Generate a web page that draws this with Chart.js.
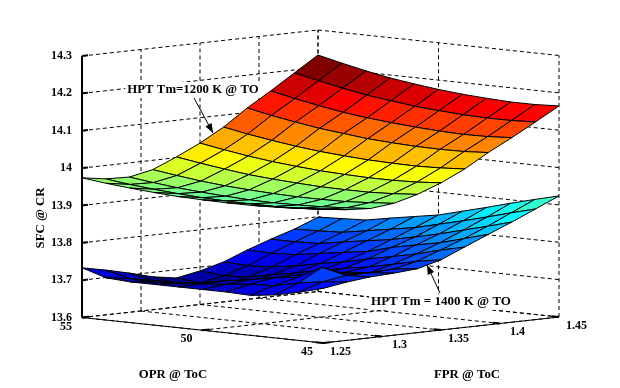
<!DOCTYPE html>
<html>
<head>
<meta charset="utf-8">
<style>html,body{margin:0;padding:0;background:#fff}canvas{display:block}</style>
<script src="https://cdn.jsdelivr.net/npm/chart.js@4"></script>
</head>
<body>
<canvas id="c" width="620" height="388"></canvas>
<script>
const oprValues = [55,54,53,52,51,50,49,48,47,46,45];
const fprValues = [1.25,1.27,1.29,1.31,1.33,1.35,1.37,1.39,1.41,1.43,1.45];
const oprTicks = [55,50,45];
const fprTicks = [1.25,1.3,1.35,1.4,1.45];
const sfcTicks = [13.6,13.7,13.8,13.9,14,14.1,14.2,14.3];
// rows: OPR 55 -> 45, columns: FPR 1.25 -> 1.45
const sfcTm1200 = [
[13.974,13.964,13.962,13.975,14.002,14.032,14.068,14.112,14.151,14.192,14.233],
[13.966,13.956,13.954,13.966,13.992,14.021,14.056,14.099,14.137,14.178,14.218],
[13.96,13.95,13.947,13.958,13.983,14.011,14.046,14.088,14.125,14.165,14.204],
[13.955,13.945,13.942,13.952,13.975,14.003,14.037,14.078,14.114,14.153,14.192],
[13.951,13.941,13.938,13.948,13.97,13.997,14.03,14.071,14.106,14.145,14.183],
[13.949,13.939,13.935,13.945,13.966,13.992,14.025,14.064,14.1,14.137,14.175],
[13.948,13.938,13.934,13.943,13.963,13.989,14.021,14.06,14.095,14.132,14.169],
[13.948,13.938,13.935,13.943,13.962,13.987,14.019,14.057,14.091,14.128,14.165],
[13.95,13.94,13.937,13.944,13.962,13.987,14.018,14.056,14.089,14.126,14.162],
[13.954,13.944,13.941,13.948,13.965,13.989,14.02,14.057,14.09,14.126,14.162],
[13.959,13.95,13.946,13.953,13.97,13.994,14.024,14.061,14.094,14.129,14.165]
];
const sfcTm1400 = [
[13.733,13.72,13.705,13.688,13.678,13.69,13.707,13.732,13.754,13.774,13.799],
[13.713,13.704,13.692,13.678,13.671,13.684,13.704,13.73,13.754,13.776,13.802],
[13.709,13.701,13.692,13.679,13.673,13.687,13.707,13.733,13.756,13.779,13.805],
[13.709,13.704,13.7,13.692,13.687,13.7,13.717,13.743,13.767,13.79,13.817],
[13.709,13.71,13.711,13.704,13.701,13.712,13.73,13.753,13.777,13.801,13.828],
[13.709,13.716,13.721,13.719,13.715,13.725,13.741,13.762,13.787,13.812,13.839],
[13.709,13.723,13.733,13.733,13.729,13.738,13.756,13.78,13.801,13.828,13.856],
[13.707,13.726,13.741,13.742,13.741,13.748,13.769,13.793,13.816,13.844,13.873],
[13.715,13.74,13.775,13.75,13.746,13.762,13.783,13.806,13.833,13.861,13.891],
[13.729,13.75,13.76,13.76,13.763,13.777,13.8,13.824,13.85,13.879,13.908],
[13.746,13.756,13.763,13.766,13.771,13.788,13.815,13.842,13.868,13.896,13.924]
];

const SERIF = '"Liberation Serif","Times New Roman",serif';
const Z_PX = 373.6;
// oblique view: turns (OPR, FPR, SFC) into coordinates of the chart's two scales
function project(opr, fpr, sfc) {
  const j = 55 - opr, i = (fpr - 1.25) / 0.02;
  return { x: 24.1 * j + 23.6 * i, y: sfc + (2.6 * i - 2.55 * j) / Z_PX };
}
function jet(t) {
  const c = v => Math.round(255 * Math.max(0, Math.min(1, v)));
  const r = Math.min(4 * t - 1.5, 4.5 - 4 * t);
  const g = Math.min(4 * t - 0.5, 3.5 - 4 * t);
  const b = Math.min(4 * t + 0.5, 2.5 - 4 * t);
  return `rgb(${c(r)},${c(g)},${c(b)})`;
}
const all = sfcTm1200.flat().concat(sfcTm1400.flat());
const zMin = Math.min(...all), zMax = Math.max(...all);

function cells(grid, name) {
  const out = [];
  for (let j = oprValues.length - 2; j >= 0; j--) {
    for (let i = 0; i < fprValues.length - 1; i++) {
      const pts = [[j,i],[j,i+1],[j+1,i+1],[j+1,i],[j,i]].map(([a,b]) =>
        project(oprValues[a], fprValues[b], grid[a][b]));
      out.push({
        label: name, data: pts, showLine: true, fill: 'shape', clip: false,
        backgroundColor: jet((grid[j][i+1] - zMin) / (zMax - zMin)),
        borderColor: '#000', borderWidth: 1, pointRadius: 0, tension: 0
      });
    }
  }
  return out;
}
const datasets = cells(sfcTm1200, 'HPT Tm=1200 K').concat(cells(sfcTm1400, 'HPT Tm=1400 K'));

function arrow(ctx, x0, y0, x1, y1) {
  ctx.beginPath(); ctx.moveTo(x0, y0); ctx.lineTo(x1, y1); ctx.lineWidth = 1; ctx.strokeStyle = '#000'; ctx.stroke();
  const a = Math.atan2(y1 - y0, x1 - x0), L = 10, W = 0.36;
  ctx.beginPath(); ctx.moveTo(x1, y1);
  ctx.lineTo(x1 - L * Math.cos(a - W), y1 - L * Math.sin(a - W));
  ctx.lineTo(x1 - L * Math.cos(a + W), y1 - L * Math.sin(a + W));
  ctx.closePath(); ctx.fillStyle = '#000'; ctx.fill();
}
function note(ctx, text, cx, cy, size) {
  ctx.font = `bold ${size}px ${SERIF}`;
  const w = ctx.measureText(text).width;
  ctx.fillStyle = '#fff';
  ctx.fillRect(cx - w / 2 - 2, cy - 8, w + 4, 16);
  ctx.fillStyle = '#000';
  ctx.fillText(text, cx, cy);
}

const box = {
  id: 'box',
  beforeDatasetsDraw(chart) {
    const { ctx, scales: { x, y } } = chart;
    const P = (o, f, z) => { const p = project(o, f, z); return [x.getPixelForValue(p.x), y.getPixelForValue(p.y)]; };
    const seg = (a, b) => { ctx.beginPath(); ctx.moveTo(a[0], a[1]); ctx.lineTo(b[0], b[1]); ctx.stroke(); };
    const z0 = sfcTicks[0], z1 = sfcTicks[sfcTicks.length - 1];
    ctx.save();
    ctx.strokeStyle = '#000'; ctx.lineWidth = 1; ctx.setLineDash([4, 3]);
    sfcTicks.forEach(z => { seg(P(55,1.25,z), P(55,1.45,z)); seg(P(55,1.45,z), P(45,1.45,z)); });
    fprTicks.forEach(f => { seg(P(55,f,z0), P(55,f,z1)); seg(P(55,f,z0), P(45,f,z0)); });
    oprTicks.forEach(o => { seg(P(o,1.45,z0), P(o,1.45,z1)); seg(P(o,1.25,z0), P(o,1.45,z0)); });
    ctx.setLineDash([]);
    seg(P(55,1.25,z0), P(45,1.25,z0));
    seg(P(45,1.25,z0), P(45,1.45,z0));
    ctx.lineWidth = 2;
    seg(P(55,1.25,z0), P(55,1.25,z1));
    sfcTicks.forEach(z => seg(P(55,1.25,z), P(55,1.25 + 0.005,z)));
    oprTicks.forEach(o => seg(P(o,1.25,z0), P(o,1.25 + 0.006,z0)));
    fprTicks.forEach(f => seg(P(45,f,z0), P(45.3,f,z0)));
    ctx.restore();
  },
  afterDatasetsDraw(chart) {
    const { ctx, scales: { x, y } } = chart;
    const P = (o, f, z) => { const p = project(o, f, z); return [x.getPixelForValue(p.x), y.getPixelForValue(p.y)]; };
    ctx.save();
    ctx.fillStyle = '#000'; ctx.textAlign = 'center'; ctx.textBaseline = 'middle';
    ctx.font = `bold 12px ${SERIF}`;
    oprTicks.forEach(o => { const p = P(o,1.25,13.6); ctx.fillText(String(o), p[0] - 16, p[1] + 9); });
    fprTicks.forEach(f => { const p = P(45,f,13.6); ctx.fillText(String(f), p[0] + 17.5, p[1] + 8.5); });
    ctx.font = `bold 12.8px ${SERIF}`;
    ctx.fillText('OPR @ ToC', 173, 375);
    ctx.fillText('FPR @ ToC', 467, 375);
    ctx.save(); ctx.translate(41, 218); ctx.rotate(-Math.PI / 2);
    ctx.fillText('SFC @ CR', 0, 0); ctx.restore();
    arrow(ctx, 194, 98, 213, 133);
    arrow(ctx, 440, 293, 427, 265);
    note(ctx, 'HPT Tm=1200 K @ TO', 193, 90, 12.8);
    note(ctx, 'HPT Tm = 1400 K @ TO', 441, 302, 13);
    ctx.restore();
  }
};

new Chart(document.getElementById('c'), {
  type: 'scatter',
  data: { datasets },
  plugins: [box],
  options: {
    responsive: false, animation: false, events: [],
    layout: { padding: { left: 0, right: 61, top: 48.53, bottom: 70.5 } },
    plugins: { legend: { display: false }, tooltip: { enabled: false } },
    scales: {
      x: { type: 'linear', display: false, min: 0, max: 477 },
      y: {
        type: 'linear', min: 13.6, max: 14.32,
        afterFit(s) { s.width = 82; },
        grid: { display: false }, border: { display: false },
        afterBuildTicks(s) { s.ticks = sfcTicks.map(v => ({ value: v })); },
        ticks: {
          color: '#000', padding: 2, font: { family: SERIF, size: 12, weight: 'bold' },
          callback: v => String(v)
        }
      }
    }
  }
});
</script>
</body>
</html>
